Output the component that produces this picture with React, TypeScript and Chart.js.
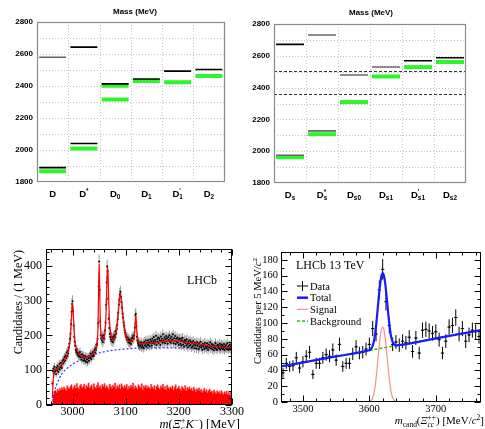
import React, { useEffect, useRef } from "react";
import { Chart, registerables } from "chart.js";

Chart.register(...registerables);

const SANS = '"Liberation Sans", Arial, sans-serif';
const SERIF = '"Liberation Serif", "Times New Roman", serif';
const GREEN = "#2cf52c";

// ---------- charm meson levels (MeV) ----------
const dLabels = ["D", "D^*", "D_0", "D_1", "D'_1", "D_2"];
const dMeasured = [1867, 2010, 2402, 2432, 2424, 2462];
const dMeasuredExtra = [null, null, 2315, null, null, null];
const dModelLow = [1890, 2041, 2413, 2444, 2493, 2503];
const dModelHigh = [2580, 2643, null, null, null, null];

const dsLabels = ["D_s", "D_s^*", "D_s0", "D_s1", "D'_s1", "D_s2"];
const dsMeasured = [1962, 2107, 2309, 2470, 2529, 2561];
const dsModelLow = [1975, 2128, 2479, 2530, 2569, 2588];
const dsModelHigh = [2672, 2731, null, null, null, null];
const dsThresholds = [2506, 2358];

const massTicks = [1800, 2000, 2200, 2400, 2600, 2800];

// ---------- m(Xi_c+ K-) spectrum, 1 MeV bins starting at 2962 ----------
const xicKStart = 2962;
const xicKCounts = [
  62, 98, 104, 92, 110, 96, 101, 88, 107, 99,
  112, 95, 104, 118, 102, 109, 121, 113, 106, 127,
  119, 131, 124, 138, 128, 142, 135, 151, 140, 156,
  148, 165, 176, 190, 205, 232, 268, 290, 298, 270,
  228, 196, 182, 170, 158, 152, 160, 146, 150, 141,
  148, 139, 152, 137, 144, 131, 146, 138, 127, 142,
  133, 128, 140, 124, 137, 131, 122, 139, 134, 127,
  141, 136, 148, 132, 145, 139, 152, 146, 141, 158,
  151, 164, 158, 172, 175, 190, 235, 340, 412, 330,
  240, 200, 192, 186, 198, 180, 193, 201, 190, 214,
  236, 288, 352, 398, 385, 305, 248, 221, 204, 195,
  188, 196, 183, 192, 180, 197, 188, 201, 194, 212,
  205, 218, 230, 246, 265, 288, 302, 318, 325, 310,
  296, 279, 262, 251, 236, 228, 215, 208, 201, 196,
  193, 187, 194, 181, 189, 178, 186, 182, 175, 191,
  184, 193, 198, 190, 200, 222, 258, 262, 226, 196,
  185, 178, 172, 181, 168, 176, 171, 180, 165, 174,
  169, 178, 163, 182, 171, 176, 185, 168, 179, 174,
  186, 172, 180, 169, 188, 177, 183, 171, 190, 178,
  184, 195, 176, 187, 181, 199, 173, 189, 182, 194,
  178, 191, 186, 172, 197, 184, 190, 179, 203, 186,
  181, 194, 177, 189, 198, 183, 192, 176, 195, 187,
  200, 182, 191, 179, 196, 185, 188, 203, 177, 192,
  184, 198, 175, 190, 182, 194, 179, 188, 172, 191,
  183, 176, 190, 171, 185, 193, 174, 182, 168, 187,
  178, 184, 171, 189, 175, 166, 183, 177, 170, 186,
  172, 181, 165, 178, 169, 184, 174, 163, 179, 171,
  176, 162, 181, 170, 174, 160, 178, 167, 173, 182,
  165, 171, 158, 176, 168, 173, 161, 179, 166, 170,
  163, 177, 169, 158, 174, 165, 171, 180, 162, 168,
  175, 160, 172, 166, 157, 171, 164, 178, 161, 169,
  158, 173, 165, 170, 162, 176, 159, 168, 174, 163,
  171, 160, 167, 175, 158, 169, 164, 172, 161, 177,
  166, 158, 170, 163, 174, 160, 168, 165,
];

// wrong-sign sample, 2 MeV steps starting at 2962 (per MeV)
const wrongSignStart = 2962;
const wrongSignCounts = [
  12, 30, 38, 42, 36, 45, 40, 48, 43, 50,
  44, 52, 47, 41, 55, 49, 46, 53, 58, 45,
  51, 57, 48, 62, 50, 46, 55, 59, 49, 53,
  60, 47, 56, 52, 63, 49, 54, 58, 45, 61,
  52, 48, 57, 64, 50, 55, 47, 59, 53, 62,
  49, 56, 51, 45, 60, 54, 48, 57, 52, 63,
  47, 55, 50, 58, 46, 61, 53, 49, 56, 51,
  59, 45, 54, 48, 57, 52, 63, 47, 55, 50,
  46, 58, 53, 49, 61, 44, 55, 51, 57, 48,
  54, 50, 46, 59, 52, 47, 56, 43, 53, 58,
  49, 45, 55, 51, 60, 47, 53, 44, 57, 50,
  46, 52, 48, 55, 43, 51, 58, 45, 49, 54,
  47, 42, 53, 49, 45, 56, 41, 50, 46, 52,
  44, 48, 40, 51, 45, 38, 47, 43, 49, 41,
  45, 36, 42, 48, 39, 44, 35, 41, 46, 37,
  40, 34, 43, 38, 32, 41, 36, 39, 33, 42,
  35, 30, 38, 33, 40, 31, 36, 29, 37, 34,
];

const fitMass = [2962, 2964, 2966, 2970, 2975, 2980, 2985, 2990, 2994, 2996, 2998, 3000, 3002, 3004, 3006, 3010, 3015, 3020, 3025, 3030, 3035, 3040, 3044, 3046, 3048, 3049, 3050, 3051, 3052, 3054, 3057, 3060, 3062, 3064, 3065, 3066, 3067, 3068, 3070, 3073, 3076, 3079, 3082, 3085, 3088, 3090, 3092, 3095, 3098, 3102, 3108, 3114, 3117, 3119, 3121, 3124, 3130, 3150, 3170, 3190, 3210, 3230, 3250, 3270, 3300];
const fitTotal = [20, 80, 100, 103, 108, 118, 130, 145, 170, 195, 255, 292, 245, 192, 168, 152, 143, 138, 137, 139, 143, 150, 162, 175, 230, 330, 405, 340, 250, 200, 186, 196, 228, 310, 372, 395, 368, 300, 232, 197, 186, 190, 210, 250, 303, 320, 303, 252, 213, 192, 182, 186, 212, 258, 212, 184, 176, 178, 182, 184, 181, 176, 172, 168, 163];
const bkgMass = [2962, 2964, 2966, 2968, 2970, 2975, 2980, 2990, 3000, 3020, 3040, 3060, 3080, 3100, 3120, 3150, 3200, 3250, 3300];
const bkgLevel = [0, 22, 38, 50, 58, 76, 90, 106, 117, 133, 145, 153, 158, 161, 163, 164, 164, 163, 162];

const xicKTicksX = [3000, 3100, 3200, 3300];
const xicKTicksY = [0, 100, 200, 300, 400];

// ---------- m_cand(Xi_cc++), 5 MeV bins starting at 3470 ----------
const xiccStart = 3470;
const xiccCounts = [
  37, 49, 45, 46, 56, 43, 51, 58, 63, 35,
  49, 49, 56, 60, 58, 66, 53, 73, 45, 49,
  49, 61, 70, 62, 63, 67, 73, 93, 86, 142,
  168, 127, 97, 73, 76, 72, 77, 75, 82, 64,
  81, 62, 91, 92, 90, 87, 89, 79, 62, 77,
  95, 97, 107, 86, 93, 77, 85, 91, 89, 83,
];
const totalMass = [3467, 3550, 3596, 3600, 3602, 3604, 3606, 3608, 3610, 3612, 3614, 3616, 3618, 3620, 3622, 3624, 3626, 3628, 3630, 3632, 3634, 3636, 3638, 3640, 3644, 3700, 3768];
const totalFit = [45, 57.7, 64.7, 65.7, 66.9, 69.4, 74.2, 82.5, 95.9, 113.2, 131.5, 147.8, 159.1, 163.4, 159.7, 149, 133.3, 115.6, 98.9, 86.2, 78.5, 74.3, 72.4, 71.8, 72.0, 80.6, 91];
const signalMass = [3467, 3596, 3600, 3602, 3604, 3606, 3608, 3610, 3612, 3614, 3616, 3618, 3620, 3622, 3624, 3626, 3628, 3630, 3632, 3634, 3636, 3638, 3640, 3644, 3768];
const signalFit = [0, 0, 0.4, 1.3, 3.5, 8, 16, 29, 46, 64, 80, 91, 95, 91, 80, 64, 46, 29, 16, 8, 3.5, 1.3, 0.4, 0, 0];
const backgroundMass = [3467, 3768];
const backgroundFit = [45, 91];

const xiccTicksX = [3500, 3600, 3700];
const xiccTicksY = [0, 20, 40, 60, 80, 100, 120, 140, 160, 180];

// ---------- drawing helpers ----------
type Piece = { t: string; it?: boolean; v?: number; keep?: boolean };

function drawRich(ctx: CanvasRenderingContext2D, pieces: Piece[], x: number, y: number, o: { size: number; family: string; weight?: string; align?: string; rot?: number; color?: string }) {
  const font = (p: Piece) => `${p.it ? "italic " : ""}${o.weight ? o.weight + " " : ""}${p.v ? o.size * 0.68 : o.size}px ${o.family}`;
  const widths = pieces.map((p) => { ctx.font = font(p); return ctx.measureText(p.t).width; });
  let total = 0;
  let held = 0;
  pieces.forEach((p, i) => {
    if (p.keep) held = Math.max(held, widths[i]);
    else { total += Math.max(held, widths[i]); held = 0; }
  });
  total += held;
  ctx.save();
  ctx.translate(x, y);
  if (o.rot) ctx.rotate(o.rot);
  ctx.fillStyle = o.color || "#000";
  ctx.textAlign = "left";
  ctx.textBaseline = "alphabetic";
  let cx = o.align === "right" ? -total : o.align === "center" ? -total / 2 : 0;
  held = 0;
  pieces.forEach((p, i) => {
    ctx.font = font(p);
    const dy = p.v === 1 ? -o.size * 0.4 : p.v === -1 ? o.size * 0.25 : 0;
    ctx.fillText(p.t, cx, dy);
    if (p.keep) held = Math.max(held, widths[i]);
    else { cx += Math.max(held, widths[i]); held = 0; }
  });
  ctx.restore();
}

function mesonPieces(s: string): Piece[] {
  const out: Piece[] = [{ t: s[0] }];
  const m = s.slice(1).match(/^(')?(?:_([a-z0-9]+))?(?:\^(.+))?$/);
  const sup = m ? (m[1] || "") + (m[3] || "") : "";
  const sub = m ? m[2] || "" : "";
  if (sup && sub) out.push({ t: sup, v: 1, keep: true }, { t: sub, v: -1 });
  else if (sup) out.push({ t: sup, v: 1 });
  else if (sub) out.push({ t: sub, v: -1 });
  return out;
}

const baseOptions = (pad: any, scales: any) => ({
  animation: false,
  responsive: false,
  devicePixelRatio: 1,
  events: [],
  layout: { padding: pad },
  plugins: { legend: { display: false }, tooltip: { enabled: false }, title: { display: false } },
  scales,
});

function levelsConfig(p: any) {
  const datasets: any[] = [];
  p.measured.forEach((d: any) =>
    datasets.push({ data: d, showLine: false, pointStyle: "line", pointRadius: p.half, pointBorderWidth: 4, pointBorderColor: GREEN, pointBackgroundColor: GREEN, order: 2 })
  );
  p.model.forEach((d: any, i: number) =>
    datasets.push({ data: d, showLine: false, pointStyle: "line", pointRadius: p.half, pointBorderWidth: 1.6, pointBorderColor: p.modelColors[i], pointBackgroundColor: p.modelColors[i], order: 1 })
  );
  const decor = {
    id: "levelDecor",
    beforeDatasetsDraw(chart: any) {
      const { ctx, chartArea: a, scales } = chart;
      const xs = scales.x, ys = scales.y;
      ctx.save();
      ctx.strokeStyle = "#c4c4c4";
      ctx.lineWidth = 1;
      ctx.setLineDash([1, 2]);
      ctx.beginPath();
      for (let v = ys.min + 100; v < ys.max; v += 100) {
        const py = Math.round(ys.getPixelForValue(v)) + 0.5;
        ctx.moveTo(a.left, py); ctx.lineTo(a.right, py);
      }
      for (let i = 0; i < p.labels.length - 1; i++) {
        const px = Math.round((xs.getPixelForValue(i) + xs.getPixelForValue(i + 1)) / 2) + 0.5;
        ctx.moveTo(px, a.top); ctx.lineTo(px, a.bottom);
      }
      ctx.stroke();
      ctx.strokeStyle = "#333";
      ctx.setLineDash([3, 2]);
      ctx.beginPath();
      (p.thresholds || []).forEach((v: number) => {
        const py = Math.round(ys.getPixelForValue(v)) + 0.5;
        ctx.moveTo(a.left, py); ctx.lineTo(a.right, py);
      });
      ctx.stroke();
      ctx.restore();
    },
    afterDatasetsDraw(chart: any) {
      const { ctx, chartArea: a, scales } = chart;
      const xs = scales.x, ys = scales.y;
      ctx.save();
      ctx.strokeStyle = "#8a8a8a";
      ctx.lineWidth = 1.2;
      ctx.strokeRect(Math.round(a.left) + 0.5, Math.round(a.top) + 0.5, Math.round(a.right - a.left) - 1, Math.round(a.bottom - a.top) - 1);
      ctx.fillStyle = "#000";
      ctx.font = `bold 8px ${SANS}`;
      ctx.textAlign = "right";
      ctx.textBaseline = "middle";
      massTicks.forEach((v) => ctx.fillText(String(v), a.left - 4, ys.getPixelForValue(v)));
      ctx.textAlign = "center";
      ctx.fillText("Mass (MeV)", p.titleX, p.titleY);
      ctx.restore();
      p.labels.forEach((lab: string, i: number) =>
        drawRich(ctx, mesonPieces(lab), xs.getPixelForValue(i), p.labelY, { size: 9.5, family: SANS, weight: "bold", align: "center" })
      );
    },
  };
  return {
    type: "line",
    data: { labels: p.labels, datasets },
    options: baseOptions(p.pad, {
      x: { type: "category", display: false, offset: true },
      y: { display: false, min: 1800, max: 2800 },
    }),
    plugins: [decor],
  };
}

function rootAxes(id: string, o: any) {
  return {
    id,
    afterDraw(chart: any) {
      const { ctx, chartArea: a, scales } = chart;
      const xs = scales.x, ys = scales.y;
      const L = Math.round(a.left) + 0.5, R = Math.round(a.right) - 0.5, T = Math.round(a.top) + 0.5, B = Math.round(a.bottom) - 0.5;
      ctx.save();
      ctx.strokeStyle = "#000";
      ctx.lineWidth = 1;
      ctx.setLineDash([]);
      ctx.strokeRect(L, T, R - L, B - T);
      ctx.beginPath();
      const isMajor = (v: number, step: number) => Math.abs(v / step - Math.round(v / step)) < 1e-6;
      for (let v = Math.ceil(xs.min / o.xMinor) * o.xMinor; v <= xs.max + 1e-6; v += o.xMinor) {
        const px = Math.round(xs.getPixelForValue(v)) + 0.5;
        const len = isMajor(v, o.xMajor) ? o.majLen : o.minLen;
        ctx.moveTo(px, B); ctx.lineTo(px, B - len);
        ctx.moveTo(px, T); ctx.lineTo(px, T + len);
      }
      for (let v = Math.ceil(ys.min / o.yMinor) * o.yMinor; v <= ys.max + 1e-6; v += o.yMinor) {
        const py = Math.round(ys.getPixelForValue(v)) + 0.5;
        const len = isMajor(v, o.yMajor) ? o.majLen : o.minLen;
        ctx.moveTo(L, py); ctx.lineTo(L + len, py);
        ctx.moveTo(R, py); ctx.lineTo(R - len, py);
      }
      ctx.stroke();
      ctx.fillStyle = "#000";
      ctx.font = `${o.fontSize}px ${SERIF}`;
      ctx.textAlign = "right";
      ctx.textBaseline = "middle";
      o.yLabels.forEach((v: number) => ctx.fillText(String(v), a.left - o.yGap, ys.getPixelForValue(v)));
      ctx.textAlign = "center";
      ctx.textBaseline = "top";
      o.xLabels.forEach((v: number) => ctx.fillText(String(v), xs.getPixelForValue(v), a.bottom + o.xGap));
      ctx.restore();
    },
  };
}

function errorBars(id: string, dsIndex: number, color: string, halfBin: number) {
  return {
    id,
    beforeDatasetsDraw(chart: any) {
      const { ctx, scales } = chart;
      const xs = scales.x, ys = scales.y;
      const pts = chart.data.datasets[dsIndex].data;
      ctx.save();
      ctx.strokeStyle = color;
      ctx.lineWidth = 1;
      ctx.beginPath();
      pts.forEach((d: any) => {
        const e = Math.sqrt(d.y);
        const px = xs.getPixelForValue(d.x);
        ctx.moveTo(px, ys.getPixelForValue(d.y - e));
        ctx.lineTo(px, ys.getPixelForValue(d.y + e));
        if (halfBin) {
          const py = ys.getPixelForValue(d.y);
          ctx.moveTo(xs.getPixelForValue(d.x - halfBin), py);
          ctx.lineTo(xs.getPixelForValue(d.x + halfBin), py);
        }
      });
      ctx.stroke();
      ctx.restore();
    },
  };
}

const pairs = (xs: number[], ys: number[]) => xs.map((x, i) => ({ x, y: ys[i] }));

function xicKConfig() {
  const counts = xicKCounts.map((y, i) => ({ x: xicKStart + i, y }));
  const wrong = wrongSignCounts.map((y, i) => ({ x: wrongSignStart + 2 * i, y }));
  const text = {
    id: "xicKText",
    afterDraw(chart: any) {
      const { ctx, chartArea: a } = chart;
      drawRich(ctx, [{ t: "Candidates / (1 MeV)" }], 22, a.top + 1, { size: 12, family: SERIF, align: "right", rot: -Math.PI / 2 });
      drawRich(ctx, [{ t: "m", it: true }, { t: "(" }, { t: "Ξ", it: true }, { t: "+", v: 1, keep: true }, { t: "c", v: -1, it: true }, { t: "K", it: true }, { t: "−", v: 1 }, { t: ") [MeV]" }], 240, 222.5, { size: 12.5, family: SERIF, align: "right" });
      drawRich(ctx, [{ t: "LHCb" }], 187, 79, { size: 12, family: SERIF });
    },
  };
  return {
    type: "line",
    data: {
      datasets: [
        { data: wrong, stepped: "middle", fill: "origin", backgroundColor: "#ff0000", borderColor: "#ff2a2a", borderWidth: 0.6, pointRadius: 0, order: 4 },
        { data: pairs(bkgMass, bkgLevel), borderColor: "#3030ff", borderDash: [2, 2], borderWidth: 1.2, pointRadius: 0, cubicInterpolationMode: "monotone", fill: false, order: 3 },
        { data: counts, showLine: false, pointRadius: 1, pointBorderWidth: 0, pointBackgroundColor: "#000", order: 2 },
        { data: pairs(fitMass, fitTotal), borderColor: "#ff0000", borderWidth: 1.2, pointRadius: 0, cubicInterpolationMode: "monotone", fill: false, order: 1 },
      ],
    },
    options: baseOptions({ left: 46, right: 18, top: 44, bottom: 24 }, {
      x: { type: "linear", display: false, min: 2950, max: 3300 },
      y: { type: "linear", display: false, min: 0, max: 448 },
    }),
    plugins: [
      errorBars("xicKErr", 2, "#9a9a9a", 0),
      rootAxes("xicKAxes", { xMajor: 100, xMinor: 20, yMajor: 100, yMinor: 20, majLen: 6, minLen: 3, fontSize: 12, yLabels: xicKTicksY, xLabels: xicKTicksX, yGap: 4, xGap: 0.5 }),
      text,
    ],
  };
}

function xiccConfig() {
  const counts = xiccCounts.map((y, i) => ({ x: xiccStart + 5 * i, y }));
  const text = {
    id: "xiccText",
    afterDraw(chart: any) {
      const { ctx, chartArea: a } = chart;
      drawRich(ctx, [{ t: "Candidates per 5 MeV/" }, { t: "c", it: true }, { t: "2", v: 1 }], 19, a.top + 6, { size: 10.5, family: SERIF, align: "right", rot: -Math.PI / 2 });
      drawRich(ctx, [{ t: "m", it: true }, { t: "cand", v: -1 }, { t: "(" }, { t: "Ξ", it: true }, { t: "++", v: 1, keep: true }, { t: "cc", v: -1, it: true }, { t: ") [MeV/" }, { t: "c", it: true }, { t: "2", v: 1 }, { t: "]" }], 242, 219, { size: 11, family: SERIF, align: "right" });
      drawRich(ctx, [{ t: "LHCb 13 TeV" }], 54, 64, { size: 12, family: SERIF });
      const rows = [81, 92.7, 104.3, 116];
      const names = ["Data", "Total", "Signal", "Background"];
      ctx.save();
      ctx.lineWidth = 1;
      ctx.strokeStyle = "#000";
      ctx.beginPath();
      ctx.moveTo(55, rows[0]); ctx.lineTo(66, rows[0]);
      ctx.moveTo(60.5, rows[0] - 5); ctx.lineTo(60.5, rows[0] + 5);
      ctx.stroke();
      ctx.strokeStyle = "#1a1aff"; ctx.lineWidth = 2.5;
      ctx.beginPath(); ctx.moveTo(55, rows[1]); ctx.lineTo(66, rows[1]); ctx.stroke();
      ctx.strokeStyle = "rgba(255,110,110,0.8)"; ctx.lineWidth = 1.2;
      ctx.beginPath(); ctx.moveTo(55, rows[2]); ctx.lineTo(66, rows[2]); ctx.stroke();
      ctx.strokeStyle = "#1fbf1f"; ctx.lineWidth = 1.5; ctx.setLineDash([3, 2]);
      ctx.beginPath(); ctx.moveTo(55, rows[3]); ctx.lineTo(66, rows[3]); ctx.stroke();
      ctx.restore();
      names.forEach((n, i) => drawRich(ctx, [{ t: n }], 68, rows[i] + 3.5, { size: 10.5, family: SERIF }));
    },
  };
  return {
    type: "line",
    data: {
      datasets: [
        { data: counts, showLine: false, pointRadius: 0.8, pointBorderWidth: 0, pointBackgroundColor: "#000", order: 4 },
        { data: pairs(backgroundMass, backgroundFit), borderColor: "#1fbf1f", borderDash: [3, 2], borderWidth: 1.5, pointRadius: 0, fill: false, order: 3 },
        { data: pairs(signalMass, signalFit), borderColor: "rgba(255,110,110,0.8)", borderWidth: 1.2, pointRadius: 0, cubicInterpolationMode: "monotone", fill: false, order: 2 },
        { data: pairs(totalMass, totalFit), borderColor: "#1a1aff", borderWidth: 2.2, pointRadius: 0, cubicInterpolationMode: "monotone", fill: false, order: 1 },
      ],
    },
    options: baseOptions({ left: 39, right: 2, top: 47, bottom: 27 }, {
      x: { type: "linear", display: false, min: 3467, max: 3768 },
      y: { type: "linear", display: false, min: 0, max: 190 },
    }),
    plugins: [
      errorBars("xiccErr", 0, "#000", 2.5),
      rootAxes("xiccAxes", { xMajor: 100, xMinor: 20, yMajor: 20, yMinor: 10, majLen: 6, minLen: 3, fontSize: 10.5, yLabels: xiccTicksY, xLabels: xiccTicksX, yGap: 3, xGap: 2 }),
      text,
    ],
  };
}

function Panel({ left, top, width, height, build }: any) {
  const ref = useRef<HTMLCanvasElement>(null);
  useEffect(() => {
    const chart = new Chart(ref.current as HTMLCanvasElement, build());
    return () => chart.destroy();
  }, []);
  return <canvas ref={ref} width={width} height={height} style={{ position: "absolute", left, top, width, height }} />;
}

export default function App() {
  return (
    <div style={{ position: "absolute", left: 0, top: 0, width: 485, height: 429, background: "#fff", overflow: "hidden" }}>
      <Panel left={0} top={0} width={242} height={205} build={() => levelsConfig({
        labels: dLabels,
        measured: [dMeasured, dMeasuredExtra],
        model: [dModelLow, dModelHigh],
        modelColors: [["#000", "#000", "#000", "#000", "#000", "#000"], ["#666", "#000", "#000", "#000", "#000", "#000"]],
        thresholds: [],
        pad: { left: 37, right: 12, top: 22, bottom: 23 },
        half: 13.5,
        titleX: 135,
        titleY: 12,
        labelY: 196.5,
      })} />
      <Panel left={242} top={0} width={243} height={205} build={() => levelsConfig({
        labels: dsLabels,
        measured: [dsMeasured],
        model: [dsModelLow, dsModelHigh],
        modelColors: [["#666", "#666", "#666", "#666", "#000", "#000"], ["#000", "#666", "#000", "#000", "#000", "#000"]],
        thresholds: dsThresholds,
        pad: { left: 32, right: 19, top: 24, bottom: 22 },
        half: 14,
        titleX: 129,
        titleY: 13,
        labelY: 198,
      })} />
      <Panel left={0} top={205} width={250} height={224} build={xicKConfig} />
      <Panel left={242} top={205} width={243} height={224} build={xiccConfig} />
    </div>
  );
}
